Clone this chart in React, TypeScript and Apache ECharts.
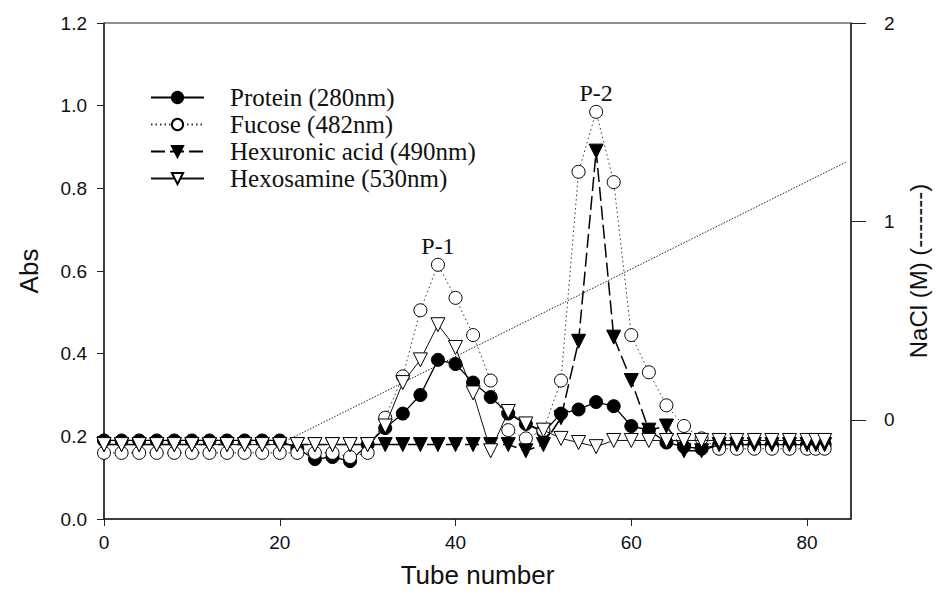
import React, { useEffect, useRef } from "react";
import * as echarts from "echarts";

const tubes = [0, 2, 4, 6, 8, 10, 12, 14, 16, 18, 20, 22, 24, 26, 28, 30, 32, 34, 36, 38, 40, 42, 44, 46, 48, 50, 52, 54, 56, 58, 60, 62, 64, 66, 68, 70, 72, 74, 76, 78, 80, 81, 82];

const protein = [0.19, 0.19, 0.19, 0.19, 0.19, 0.19, 0.19, 0.19, 0.19, 0.19, 0.19, 0.17, 0.145, 0.15, 0.14, 0.18, 0.22, 0.255, 0.30, 0.385, 0.375, 0.33, 0.295, 0.255, 0.23, 0.21, 0.255, 0.265, 0.283, 0.273, 0.225, 0.215, 0.185, 0.175, 0.17, 0.18, 0.18, 0.18, 0.18, 0.18, 0.18, 0.18, 0.18];
const fucose = [0.16, 0.16, 0.16, 0.16, 0.16, 0.16, 0.16, 0.16, 0.16, 0.16, 0.16, 0.16, 0.16, 0.16, 0.15, 0.16, 0.245, 0.345, 0.505, 0.615, 0.535, 0.445, 0.335, 0.215, 0.195, 0.215, 0.335, 0.84, 0.985, 0.815, 0.445, 0.355, 0.275, 0.225, 0.195, 0.17, 0.17, 0.17, 0.17, 0.17, 0.17, 0.17, 0.17];
const hexuronic = [0.18, 0.18, 0.18, 0.18, 0.18, 0.18, 0.18, 0.18, 0.18, 0.18, 0.18, 0.18, 0.18, 0.18, 0.18, 0.18, 0.18, 0.18, 0.18, 0.18, 0.18, 0.18, 0.18, 0.18, 0.165, 0.18, 0.245, 0.43, 0.89, 0.44, 0.335, 0.215, 0.225, 0.165, 0.165, 0.18, 0.18, 0.18, 0.18, 0.18, 0.18, 0.18, 0.18];
const hexosamine = [0.18, 0.18, 0.18, 0.18, 0.18, 0.18, 0.18, 0.18, 0.18, 0.18, 0.18, 0.18, 0.18, 0.18, 0.18, 0.18, 0.225, 0.33, 0.385, 0.47, 0.415, 0.305, 0.165, 0.26, 0.23, 0.215, 0.195, 0.185, 0.175, 0.19, 0.19, 0.19, 0.19, 0.19, 0.19, 0.19, 0.19, 0.19, 0.19, 0.19, 0.19, 0.19, 0.19];

const naclTubes = [21, 84.5];
const naclValues = [-0.1, 1.3];

const xTicks = [0, 20, 40, 60, 80];
const rightTicks = [0, 1, 2];

const seriesNames = ["Protein (280nm)", "Fucose (482nm)", "Hexuronic acid (490nm)", "Hexosamine (530nm)"];
const peakLabels = [
  { name: "P-1", tube: 38, value: 0.615 },
  { name: "P-2", tube: 56, value: 0.985 },
];

const zip = (xs: number[], ys: number[]) => xs.map((x, i) => [x, ys[i]]);

const AXIS = "#222";
const SANS = "'Liberation Sans', Arial, sans-serif";
const SERIF = "'Liberation Serif', 'Times New Roman', serif";

export default function App() {
  const ref = useRef<HTMLDivElement>(null);
  useEffect(() => {
    if (!ref.current) return;
    const chart = echarts.init(ref.current, null, { renderer: "svg" });
    const baseLine = (name: string, data: number[], opts: any) => ({
      name,
      type: "line",
      data: zip(tubes, data),
      symbolSize: 13,
      ...opts,
    });
    chart.setOption({
      animation: false,
      backgroundColor: "#fff",
      grid: { left: 104, right: 85, top: 23, bottom: 78, show: true, borderColor: AXIS, borderWidth: 1 },
      legend: {
        orient: "vertical",
        left: 145,
        top: 80,
        itemWidth: 53,
        itemHeight: 14,
        itemGap: 2,
        data: seriesNames,
        textStyle: { fontFamily: SERIF, fontSize: 25, lineHeight: 25, color: "#111", padding: [0, 0, 0, 21] },
      },
      xAxis: {
        type: "value",
        min: 0,
        max: 85,
        name: "Tube number",
        nameLocation: "middle",
        nameGap: 43,
        nameTextStyle: { fontFamily: SANS, fontSize: 26, color: "#111" },
        axisLine: { show: true, lineStyle: { color: AXIS, width: 1.5 } },
        axisTick: { show: true, inside: false, length: 7, customValues: xTicks, lineStyle: { color: AXIS } },
        axisLabel: { customValues: xTicks, fontFamily: SANS, fontSize: 19, color: "#111", margin: 14 },
        splitLine: { show: false },
      },
      yAxis: [
        {
          type: "value",
          min: 0,
          max: 1.2,
          interval: 0.2,
          name: "Abs",
          nameLocation: "middle",
          nameRotate: 90,
          nameGap: 62,
          nameTextStyle: { fontFamily: SANS, fontSize: 26, color: "#111" },
          axisLine: { show: true, lineStyle: { color: AXIS, width: 1.5 } },
          axisTick: { show: true, inside: false, length: 7, lineStyle: { color: AXIS } },
          axisLabel: { formatter: (v: number) => v.toFixed(1), fontFamily: SANS, fontSize: 19, color: "#111", margin: 17 },
          splitLine: { show: false },
        },
        {
          type: "value",
          min: -0.5,
          max: 2,
          position: "right",
          name: "NaCl (M) (-------)",
          nameLocation: "middle",
          nameRotate: 90,
          nameGap: 55,
          nameTextStyle: { fontFamily: SANS, fontSize: 24, color: "#111" },
          axisLine: { show: true, lineStyle: { color: AXIS, width: 1.5 } },
          axisTick: { show: true, inside: false, length: 15, customValues: rightTicks, lineStyle: { color: AXIS } },
          axisLabel: { customValues: rightTicks, fontFamily: SANS, fontSize: 19, color: "#111", margin: 33 },
          splitLine: { show: false },
        },
      ],
      series: [
        {
          name: "NaCl",
          type: "line",
          yAxisIndex: 1,
          data: zip(naclTubes, naclValues),
          showSymbol: false,
          symbol: "none",
          lineStyle: { color: "#222", width: 1, type: [1.5, 1.5] },
          z: 1,
        },
        baseLine(seriesNames[0], protein, {
          symbol: "circle",
          itemStyle: { color: "#000", borderColor: "#000", borderWidth: 1 },
          lineStyle: { color: "#000", width: 1.3, type: "solid" },
          z: 2,
        }),
        baseLine(seriesNames[1], fucose, {
          symbol: "circle",
          itemStyle: { color: "#fff", borderColor: "#000", borderWidth: 1 },
          lineStyle: { color: "#333", width: 1, type: [1.5, 3] },
          z: 3,
          markPoint: {
            symbol: "rect",
            symbolSize: 1,
            itemStyle: { color: "rgba(0,0,0,0)" },
            label: { show: true, position: "top", distance: 6, formatter: "{b}", fontFamily: SERIF, fontSize: 24, color: "#111" },
            data: peakLabels.map((p) => ({ name: p.name, coord: [p.tube, p.value] })),
          },
        }),
        baseLine(seriesNames[2], hexuronic, {
          symbol: "triangle",
          symbolRotate: 180,
          symbolSize: 14,
          itemStyle: { color: "#000", borderColor: "#000", borderWidth: 1 },
          lineStyle: { color: "#000", width: 1.5, type: [14, 5] },
          z: 4,
        }),
        baseLine(seriesNames[3], hexosamine, {
          symbol: "triangle",
          symbolRotate: 180,
          symbolSize: 14,
          itemStyle: { color: "#fff", borderColor: "#000", borderWidth: 1 },
          lineStyle: { color: "#111", width: 1, type: "solid" },
          z: 5,
        }),
      ],
    });
    return () => chart.dispose();
  }, []);
  return <div ref={ref} style={{ position: "absolute", left: 0, top: 0, width: 938, height: 597 }} />;
}
